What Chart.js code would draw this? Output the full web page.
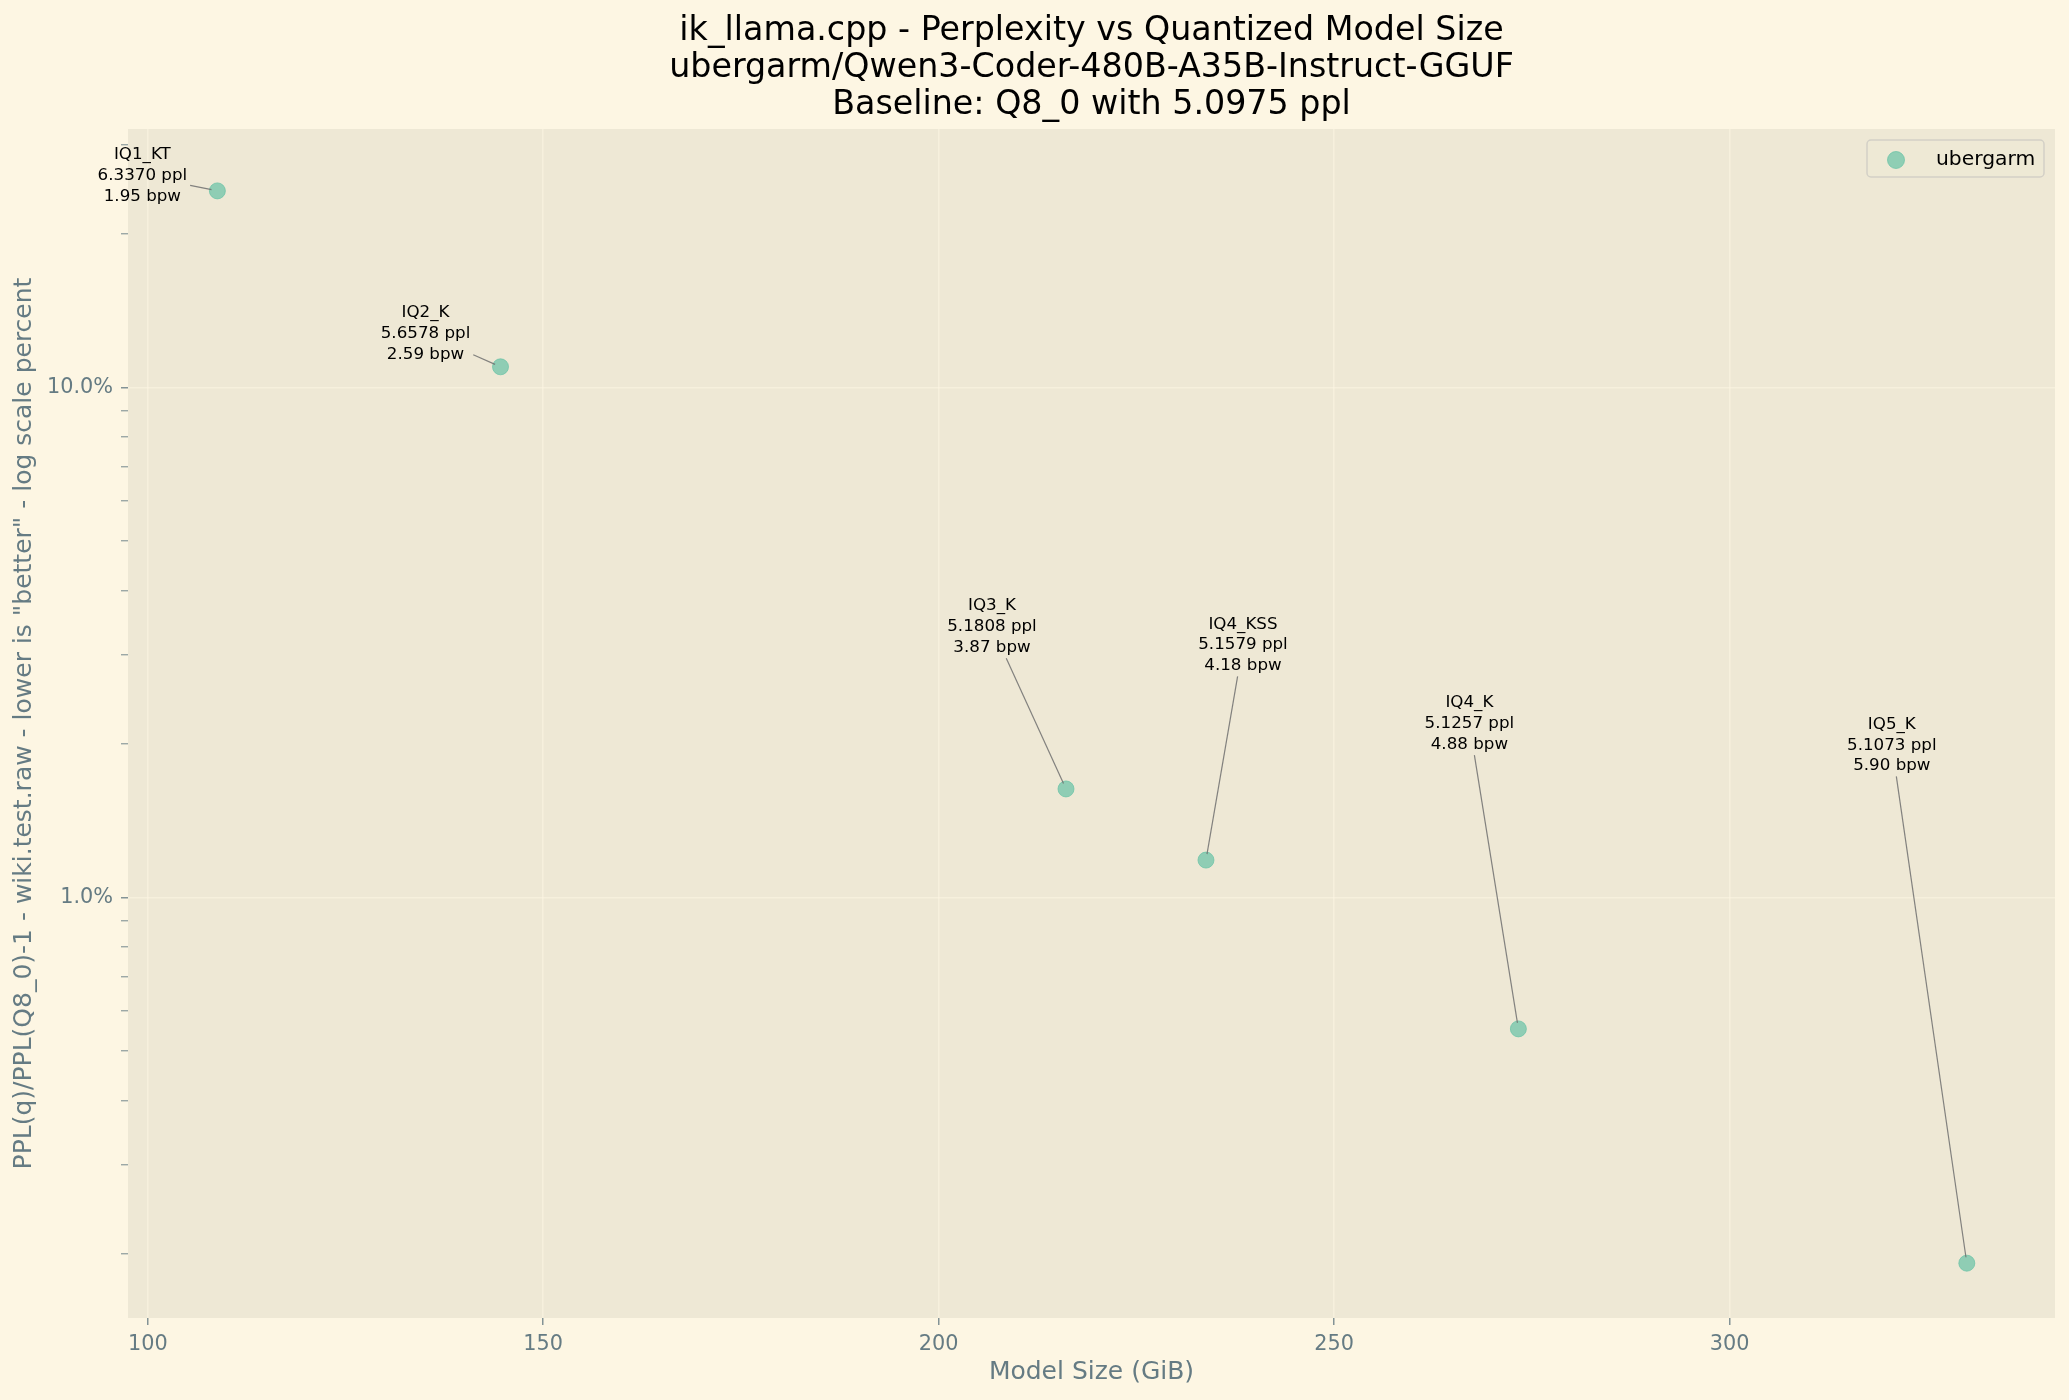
<!DOCTYPE html>
<html lang="en">
<head>
  <meta charset="UTF-8" />
  <title>Perplexity vs Quantized Model Size</title>
  <script src="https://cdn.jsdelivr.net/npm/chart.js"></script>
  <style>
    html, body { margin: 0; padding: 0; background: #fdf6e3; }
    .chart-container { width: 2069px; height: 1400px; }
  </style>
</head>
<body>
  <div class="chart-container">
    <canvas id="pplChart"></canvas>
  </div>

  <script>
    // Data
    const quantNames = ['IQ1_KT', 'IQ2_K', 'IQ3_K', 'IQ4_KSS', 'IQ4_K', 'IQ5_K'];
    const sizeGiB = [108.8, 144.6, 216.1, 233.8, 273.3, 330.0];
    const pplDeltaPct = [24.32, 10.99, 1.634, 1.185, 0.553, 0.192];
    const pplLabels = ['6.3370', '5.6578', '5.1808', '5.1579', '5.1257', '5.1073'];
    const bpwLabels = ['1.95', '2.59', '3.87', '4.18', '4.88', '5.90'];

    const xTicks = [100, 150, 200, 250, 300];
    const yMajorTicks = [1, 10];
    const yMinorTicks = [0.2, 0.3, 0.4, 0.5, 0.6, 0.7, 0.8, 0.9, 2, 3, 4, 5, 6, 7, 8, 9, 20, 30];

    // label text offsets from each point, in pixels
    const labelOffsets = [[-75, -15], [-75, -33], [-74, -162], [37, -215], [-49, -305], [-75, -518]];

    const FONT = '"DejaVu Sans", sans-serif';
    const axisColor = '#657b83';
    const gridColor = 'rgba(253, 246, 227, 0.55)';
    const pointColor = 'rgba(102, 194, 165, 0.7)';

    // Backgrounds for figure and axes
    const backgroundPlugin = {
      id: 'backgrounds',
      beforeDraw(chart) {
        const { ctx, chartArea } = chart;
        ctx.save();
        ctx.fillStyle = '#fdf6e3';
        ctx.fillRect(0, 0, chart.width, chart.height);
        ctx.fillStyle = '#eee8d5';
        ctx.fillRect(chartArea.left, chartArea.top, chartArea.right - chartArea.left, chartArea.bottom - chartArea.top);
        ctx.restore();
      }
    };

    // Text labels with a thin leader line to each point
    const annotationPlugin = {
      id: 'pointNotes',
      afterDatasetsDraw(chart) {
        const ctx = chart.ctx;
        const meta = chart.getDatasetMeta(0);
        const lineH = 20.8;
        ctx.save();
        ctx.font = '16.7px ' + FONT;
        meta.data.forEach((pt, i) => {
          const cx = pt.x + labelOffsets[i][0];
          const cy = pt.y + labelOffsets[i][1];
          const lines = [quantNames[i], pplLabels[i] + ' ppl', bpwLabels[i] + ' bpw'];
          const halfW = Math.max(...lines.map(l => ctx.measureText(l).width)) / 2 + 3;
          const halfH = 1.5 * lineH;
          const dx = pt.x - cx, dy = pt.y - cy;
          const t = Math.min(halfW / Math.max(Math.abs(dx), 1e-6), halfH / Math.max(Math.abs(dy), 1e-6));
          const len = Math.hypot(dx, dy);
          ctx.strokeStyle = 'rgba(110, 110, 110, 0.85)';
          ctx.lineWidth = 1.2;
          ctx.beginPath();
          ctx.moveTo(cx + dx * t, cy + dy * t);
          ctx.lineTo(pt.x - dx / len * 6, pt.y - dy / len * 6);
          ctx.stroke();

          ctx.fillStyle = '#000';
          ctx.textAlign = 'center';
          ctx.textBaseline = 'middle';
          lines.forEach((l, k) => ctx.fillText(l, cx, cy + (k - 1) * lineH));
        });
        ctx.restore();
      }
    };

    // Title block and legend box
    const titleLegendPlugin = {
      id: 'titleLegend',
      afterDraw(chart) {
        const { ctx, chartArea } = chart;
        ctx.save();
        ctx.fillStyle = '#000';
        ctx.font = '33.3px ' + FONT;
        ctx.textAlign = 'center';
        ctx.textBaseline = 'alphabetic';
        const midX = (chartArea.left + chartArea.right) / 2;
        const titleLines = [
          'ik_llama.cpp - Perplexity vs Quantized Model Size',
          'ubergarm/Qwen3-Coder-480B-A35B-Instruct-GGUF',
          'Baseline: Q8_0 with 5.0975 ppl'
        ];
        titleLines.forEach((l, k) => ctx.fillText(l, midX, 39.5 + k * 37));

        // legend
        const bx = 1867, by = 140, bw = 177, bh = 37;
        ctx.beginPath();
        ctx.roundRect(bx, by, bw, bh, 4);
        ctx.fillStyle = 'rgba(238, 232, 213, 0.8)';
        ctx.fill();
        ctx.strokeStyle = '#d3d0c6';
        ctx.lineWidth = 1.5;
        ctx.stroke();

        ctx.beginPath();
        ctx.arc(1896, 160, 8.5, 0, Math.PI * 2);
        ctx.fillStyle = pointColor;
        ctx.fill();
        ctx.strokeStyle = pointColor;
        ctx.lineWidth = 1;
        ctx.stroke();

        ctx.fillStyle = '#000';
        ctx.font = '20.3px ' + FONT;
        ctx.textAlign = 'left';
        ctx.textBaseline = 'middle';
        ctx.fillText(chart.data.datasets[0].label, 1936, 160);
        ctx.restore();
      }
    };

    const ctx = document.getElementById('pplChart').getContext('2d');
    const pplChart = new Chart(ctx, {
      type: 'scatter',
      data: {
        datasets: [{
          label: 'ubergarm',
          data: sizeGiB.map((x, i) => ({ x: x, y: pplDeltaPct[i] })),
          backgroundColor: pointColor,
          borderColor: pointColor,
          borderWidth: 1,
          pointRadius: 8
        }]
      },
      options: {
        responsive: true,
        maintainAspectRatio: false,
        animation: false,
        layout: { padding: { top: 129, right: 14, bottom: 0, left: 0 } },
        plugins: {
          legend: { display: false },
          tooltip: { enabled: false },
          title: { display: false }
        },
        scales: {
          x: {
            type: 'linear',
            min: 97.5,
            max: 341.15,
            bounds: 'data',
            afterBuildTicks: scale => { scale.ticks = xTicks.map(v => ({ value: v })); },
            afterFit: scale => { scale.height = 82; },
            border: { display: false },
            grid: {
              color: gridColor,
              lineWidth: 1.6,
              tickColor: axisColor,
              tickLength: 7,
              tickWidth: 1.2
            },
            ticks: {
              color: axisColor,
              font: { family: FONT, size: 20.8 },
              padding: 7,
              maxRotation: 0,
              callback: v => String(v)
            },
            title: {
              display: true,
              text: 'Model Size (GiB)',
              color: axisColor,
              font: { family: FONT, size: 25 },
              padding: { top: 0, bottom: 13 }
            }
          },
          y: {
            type: 'logarithmic',
            min: 0.1499,
            max: 32.16,
            bounds: 'data',
            afterBuildTicks: scale => {
              scale.ticks = yMinorTicks.concat(yMajorTicks).sort((a, b) => a - b).map(v => ({ value: v }));
            },
            afterFit: scale => { scale.width = 128; },
            border: { display: false },
            grid: {
              color: c => (c.tick && yMajorTicks.includes(c.tick.value)) ? gridColor : 'rgba(0,0,0,0)',
              lineWidth: 1.6,
              tickColor: axisColor,
              tickLength: 7,
              tickWidth: c => (c.tick && yMajorTicks.includes(c.tick.value)) ? 1.2 : 0.9
            },
            ticks: {
              color: axisColor,
              font: { family: FONT, size: 20.8 },
              padding: 8,
              autoSkip: false,
              callback: v => yMajorTicks.includes(v) ? v.toFixed(1) + '%' : ''
            },
            title: {
              display: true,
              text: 'PPL(q)/PPL(Q8_0)-1 - wiki.test.raw - lower is "better" - log scale percent',
              color: axisColor,
              font: { family: FONT, size: 25 },
              padding: { top: 9, bottom: 0 }
            }
          }
        }
      },
      plugins: [backgroundPlugin, annotationPlugin, titleLegendPlugin]
    });
  </script>
</body>
</html>
